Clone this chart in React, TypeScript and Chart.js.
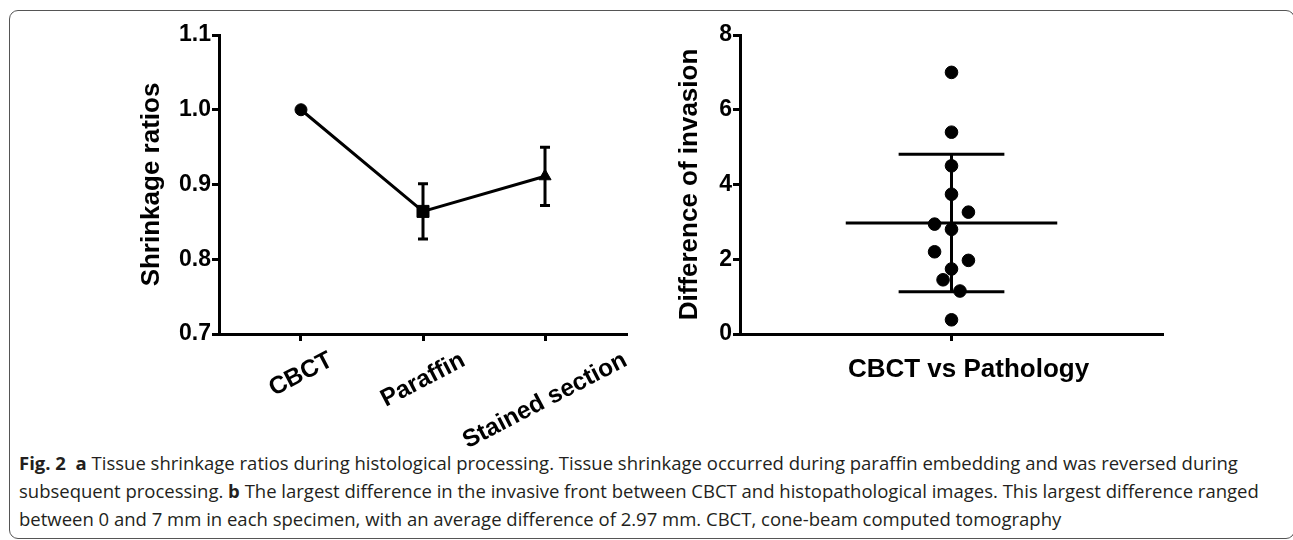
import React, { useEffect, useRef } from "react";
import { Chart, registerables } from "chart.js";
Chart.register(...registerables);

// ---- Panel a data ----
const stageLabels = ["CBCT", "Paraffin", "Stained section"];
const stageMeans = [1.0, 0.864, 0.911];
const stageSD = [0, 0.037, 0.039];
const stageMarkers = ["circle", "rect", "triangle"];
const stageMarkerRadius = [6, 8.5, 7];
const ratioTicks = [0.7, 0.8, 0.9, 1.0, 1.1];

// ---- Panel b data ----
const invasionValues = [7.0, 5.4, 4.5, 3.74, 3.26, 2.94, 2.8, 2.2, 1.97, 1.74, 1.45, 1.15, 0.38];
const invasionJitter = [0, 0, 0, 0, 0.08, -0.08, 0, -0.08, 0.08, 0, -0.04, 0.04, 0];
const invasionMean = 2.97;
const invasionSD = 1.84;
const invasionTicks = [0, 2, 4, 6, 8];
const groupLabel = "CBCT vs Pathology";

const FONT = '"Liberation Sans", Arial, sans-serif';

function makeBars(means: number[], sds: number[], cap: number) {
  const out: any[] = [];
  means.forEach((m, i) => {
    const sd = sds[i];
    if (!sd) return;
    const lo = m - sd;
    const hi = m + sd;
    out.push({ x: i - cap, y: hi }, { x: i + cap, y: hi }, { x: i, y: null });
    out.push({ x: i, y: hi }, { x: i, y: lo }, { x: i, y: null });
    out.push({ x: i - cap, y: lo }, { x: i + cap, y: lo }, { x: i, y: null });
  });
  return out;
}

const axisGrid = {
  display: true,
  drawOnChartArea: false,
  drawTicks: true,
  tickLength: 7,
  tickWidth: 3,
  tickColor: "#000",
};
const axisBorder = { display: true, color: "#000", width: 3 };

function LeftChart() {
  const ref = useRef<HTMLCanvasElement>(null);
  useEffect(() => {
    const rotLabels = {
      id: "rotLabels",
      afterDraw(chart: any) {
        const { ctx } = chart;
        const xs = chart.scales.x;
        const axisY = chart.chartArea.bottom;
        const ang = (27.5 * Math.PI) / 180;
        const h = 24.5;
        ctx.save();
        ctx.font = `bold 24.5px ${FONT}`;
        ctx.fillStyle = "#000";
        ctx.textAlign = "center";
        ctx.textBaseline = "middle";
        stageLabels.forEach((lab, i) => {
          const w = ctx.measureText(lab).width;
          const bh = w * Math.sin(ang) + h * Math.cos(ang);
          const x = xs.getPixelForValue(i);
          const y = axisY + 14 + bh / 2;
          ctx.save();
          ctx.translate(x, y);
          ctx.rotate(-ang);
          ctx.fillText(lab, 0, 0);
          ctx.restore();
        });
        ctx.restore();
      },
    };
    const chart = new Chart(ref.current!, {
      type: "scatter",
      data: {
        datasets: [
          {
            data: makeBars(stageMeans, stageSD, 0.041),
            showLine: true,
            spanGaps: false,
            borderColor: "#000",
            borderWidth: 3,
            pointRadius: 0,
          } as any,
          {
            data: stageMeans.map((m, i) => ({ x: i, y: m })),
            showLine: true,
            borderColor: "#000",
            backgroundColor: "#000",
            borderWidth: 3,
            pointStyle: stageMarkers as any,
            pointRadius: stageMarkerRadius,
            pointBackgroundColor: "#000",
            pointBorderColor: "#000",
            pointBorderWidth: 1,
          } as any,
        ],
      },
      options: {
        responsive: false,
        animation: false,
        layout: { padding: { top: 35, right: 23, left: 0, bottom: 0 } },
        plugins: { legend: { display: false }, tooltip: { enabled: false } },
        scales: {
          x: {
            type: "linear",
            min: -0.672,
            max: 2.672,
            grid: axisGrid,
            border: axisBorder,
            ticks: { display: false },
            afterBuildTicks: (s: any) => {
              s.ticks = stageLabels.map((_, i) => ({ value: i }));
            },
            afterFit: (s: any) => {
              s.height = 460 - 334;
            },
          } as any,
          y: {
            type: "linear",
            min: 0.7,
            max: 1.1,
            grid: axisGrid,
            border: axisBorder,
            ticks: {
              color: "#000",
              padding: 1,
              font: { family: FONT, size: 23, weight: "bold" },
              callback: (v: any) => Number(v).toFixed(1),
            },
            afterBuildTicks: (s: any) => {
              s.ticks = ratioTicks.map((v) => ({ value: v }));
            },
            title: {
              display: true,
              text: "Shrinkage ratios",
              color: "#000",
              font: { family: FONT, size: 26, weight: "bold" },
              padding: { top: 136, bottom: 0 },
            },
            afterFit: (s: any) => {
              s.width = 219;
            },
          } as any,
        },
      },
      plugins: [rotLabels],
    });
    return () => chart.destroy();
  }, []);
  return (
    <canvas
      ref={ref}
      width={650}
      height={460}
      style={{ position: "absolute", left: 0, top: 0, width: 650, height: 460 }}
    />
  );
}

function RightChart() {
  const ref = useRef<HTMLCanvasElement>(null);
  useEffect(() => {
    const xTitle = {
      id: "xTitle",
      afterDraw(chart: any) {
        const { ctx } = chart;
        const xs = chart.scales.x;
        ctx.save();
        ctx.font = `bold 26px ${FONT}`;
        ctx.fillStyle = "#000";
        ctx.textAlign = "center";
        ctx.textBaseline = "middle";
        ctx.fillText(groupLabel, xs.getPixelForValue(0) + 17, chart.chartArea.bottom + 36);
        ctx.restore();
      },
    };
    const lineDs = (pts: any[]) =>
      ({
        data: pts,
        showLine: true,
        borderColor: "#000",
        borderWidth: 3,
        pointRadius: 0,
      } as any);
    const hi = invasionMean + invasionSD;
    const lo = invasionMean - invasionSD;
    const chart = new Chart(ref.current!, {
      type: "scatter",
      data: {
        datasets: [
          lineDs([
            { x: -0.5, y: invasionMean },
            { x: 0.5, y: invasionMean },
          ]),
          lineDs([
            { x: -0.25, y: hi },
            { x: 0.25, y: hi },
          ]),
          lineDs([
            { x: -0.25, y: lo },
            { x: 0.25, y: lo },
          ]),
          lineDs([
            { x: 0, y: lo },
            { x: 0, y: hi },
          ]),
          {
            data: invasionValues.map((v, i) => ({ x: invasionJitter[i], y: v })),
            pointStyle: "circle",
            pointRadius: 6.3,
            pointBackgroundColor: "#000",
            pointBorderColor: "#000",
            pointBorderWidth: 1,
          } as any,
        ],
      },
      options: {
        responsive: false,
        animation: false,
        layout: { padding: { top: 35, right: 37, left: 0, bottom: 0 } },
        plugins: { legend: { display: false }, tooltip: { enabled: false } },
        scales: {
          x: {
            type: "linear",
            min: -1,
            max: 1,
            grid: axisGrid,
            border: axisBorder,
            ticks: { display: false },
            afterBuildTicks: (s: any) => {
              s.ticks = [{ value: 0 }];
            },
            afterFit: (s: any) => {
              s.height = 400 - 334;
            },
          } as any,
          y: {
            type: "linear",
            min: 0,
            max: 8,
            grid: axisGrid,
            border: axisBorder,
            ticks: {
              color: "#000",
              padding: 1,
              font: { family: FONT, size: 23, weight: "bold" },
            },
            afterBuildTicks: (s: any) => {
              s.ticks = invasionTicks.map((v) => ({ value: v }));
            },
            title: {
              display: true,
              text: "Difference of invasion",
              color: "#000",
              font: { family: FONT, size: 26, weight: "bold" },
              padding: { top: 34, bottom: 0 },
            },
            afterFit: (s: any) => {
              s.width = 100;
            },
          } as any,
        },
      },
      plugins: [xTitle],
    });
    return () => chart.destroy();
  }, []);
  return (
    <canvas
      ref={ref}
      width={560}
      height={400}
      style={{ position: "absolute", left: 640, top: 0, width: 560, height: 400 }}
    />
  );
}

export default function App() {
  return (
    <div style={{ position: "absolute", left: 0, top: 0, width: 1293, height: 540, overflow: "hidden", background: "#fff" }}>
      <div
        style={{
          position: "absolute",
          left: 9,
          top: 10,
          width: 1286,
          height: 529,
          boxSizing: "border-box",
          border: "1px solid #555",
          borderRadius: 9,
        }}
      />
      <div
        style={{
          position: "absolute",
          left: 19,
          top: 449,
          fontFamily: '"Open Sans", "Noto Sans", sans-serif',
          fontSize: 18.5,
          lineHeight: "28px",
          letterSpacing: "0px",
          color: "#231f20",
          whiteSpace: "nowrap",
        }}
      >
        <b>Fig. 2</b>&nbsp; <b>a</b> Tissue shrinkage ratios during histological processing. Tissue shrinkage occurred during paraffin embedding and was reversed during
        <br />
        subsequent processing. <b>b</b> The largest difference in the invasive front between CBCT and histopathological images. This largest difference ranged
        <br />
        between 0 and 7 mm in each specimen, with an average difference of 2.97 mm. CBCT, cone-beam computed tomography
      </div>
      <LeftChart />
      <RightChart />
    </div>
  );
}
